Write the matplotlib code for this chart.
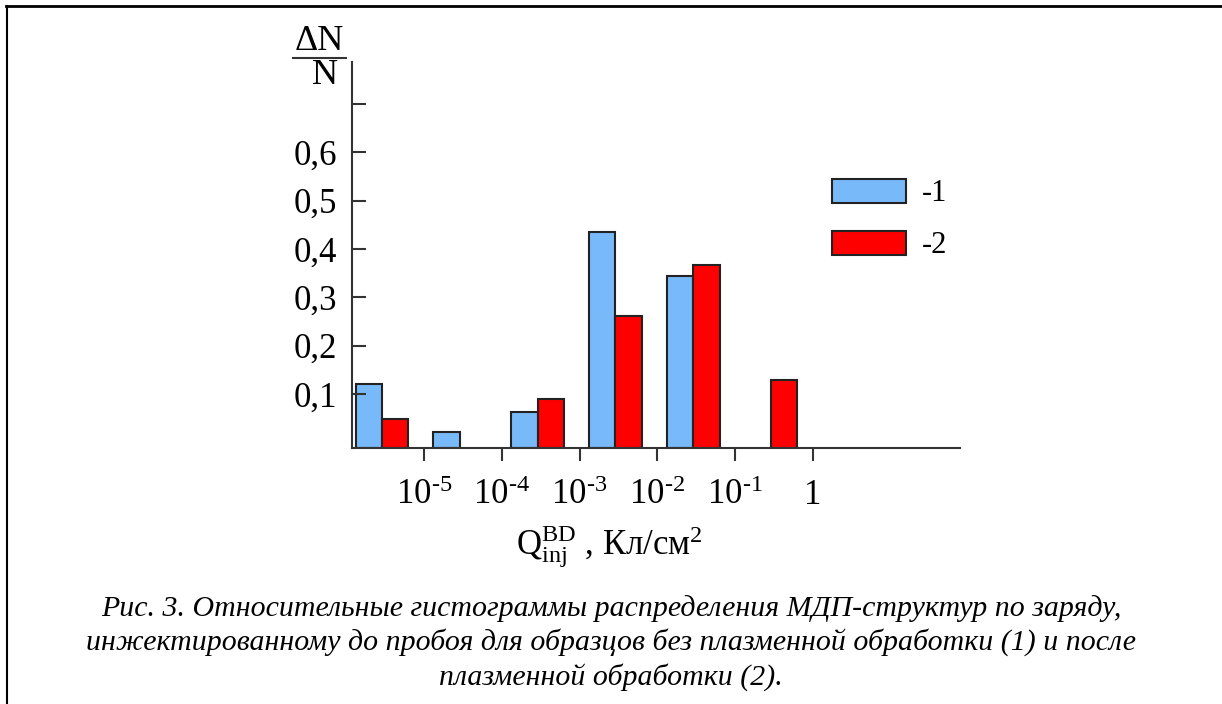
import matplotlib
matplotlib.use("Agg")
import matplotlib.pyplot as plt
from matplotlib.lines import Line2D
import numpy as np

# bins: lower edge of each decade, log10(Q, Кл/см2)
bin_lo = [-6, -5, -4, -3, -2, -1]
dn_1 = [0.121, 0.021, 0.063, 0.436, 0.344, 0.0]   # without plasma treatment
dn_2 = [0.048, 0.0, 0.090, 0.261, 0.367, 0.129]   # after plasma treatment
x_ticks = [-5, -4, -3, -2, -1, 0]
x_labels = [r"$10^{\text{-5}}$", r"$10^{\text{-4}}$", r"$10^{\text{-3}}$",
            r"$10^{\text{-2}}$", r"$10^{\text{-1}}$", "1"]
y_ticks = [0.1, 0.2, 0.3, 0.4, 0.5, 0.6, 0.7]
y_labels = ["0,1", "0,2", "0,3", "0,4", "0,5", "0,6", ""]
legend_labels = ["-1", "-2"]
caption = ("Рис. 3. Относительные гистограммы распределения МДП-структур по заряду,\n"
           "инжектированному до пробоя для образцов без плазменной обработки (1) и после\n"
           "плазменной обработки (2).")

plt.rcParams.update({
    "font.family": ["Liberation Serif", "DejaVu Serif"],
    "mathtext.fontset": "custom",
    "mathtext.rm": "Liberation Serif",
    "mathtext.it": "Liberation Serif:italic",
    "mathtext.bf": "Liberation Serif:bold",
})

W, H = 1222, 704
fig = plt.figure(figsize=(W / 100, H / 100), dpi=100)

def fx(px):
    return px / W

def fy(py):
    return 1 - py / H

ax = fig.add_axes([fx(352), fy(448), fx(960 - 352), (448 - 62) / H])

y0 = -0.012
blue = "#78b9fa"
red = "#ff0000"
edge = "#222222"
lo = np.array(bin_lo, dtype=float)
b1 = ax.bar(lo + 0.29, np.array(dn_1) - y0, bottom=y0, width=0.34,
            color=blue, edgecolor=edge, linewidth=1.5)
b2 = ax.bar(lo + 0.63, np.array(dn_2) - y0, bottom=y0, width=0.34,
            color=red, edgecolor=edge, linewidth=1.5)
# hide empty bars
for rect, v in zip(list(b1) + list(b2), dn_1 + dn_2):
    if v == 0:
        rect.set_visible(False)

ax.set_xlim(-5.925, 1.89)
ax.set_ylim(y0, 0.787)
for s in ["top", "right"]:
    ax.spines[s].set_visible(False)
for s in ["left", "bottom"]:
    ax.spines[s].set_color("#333333")
    ax.spines[s].set_linewidth(1.5)

ax.set_xticks(x_ticks)
ax.set_xticklabels(x_labels, fontsize=25)
ax.set_yticks(y_ticks)
ax.set_yticklabels(y_labels, fontsize=25)
ax.tick_params(axis="x", direction="out", length=9, width=1.5, color="#333333", pad=13)
ax.tick_params(axis="y", direction="in", length=10, width=1.5, color="#333333", pad=11)

ax.legend([b1, b2], legend_labels, loc="upper left",
          bbox_to_anchor=(fx(832), fy(179)), bbox_transform=fig.transFigure,
          frameon=False, fontsize=22, handlelength=2.42, handleheight=0.82,
          handletextpad=0.52, labelspacing=0.73, borderpad=0, borderaxespad=0)

# y label as a fraction
fig.text(fx(319), fy(42), "ΔN", fontsize=26, ha="center", va="center")
fig.add_artist(Line2D([fx(293), fx(346)], [fy(58), fy(58)], color="#333333", lw=1.5))
fig.text(fx(325), fy(76), "N", fontsize=26, ha="center", va="center")

# x label
fig.text(fx(609), fy(547), r"$\mathrm{Q}_{\mathrm{inj}}^{\mathrm{BD}}$ , Кл/см$^2$",
         fontsize=25, ha="center", va="center")

# caption
fig.text(0.5, fy(643), caption, fontsize=21.5, style="italic", ha="center", va="center",
         linespacing=1.3)

# page frame
fig.add_artist(Line2D([fx(7), fx(7)], [fy(6), 0], color="black", lw=1.5))
fig.add_artist(Line2D([fx(6), 1], [fy(6), fy(6)], color="black", lw=2))

fig.savefig("out.png", dpi=100)
